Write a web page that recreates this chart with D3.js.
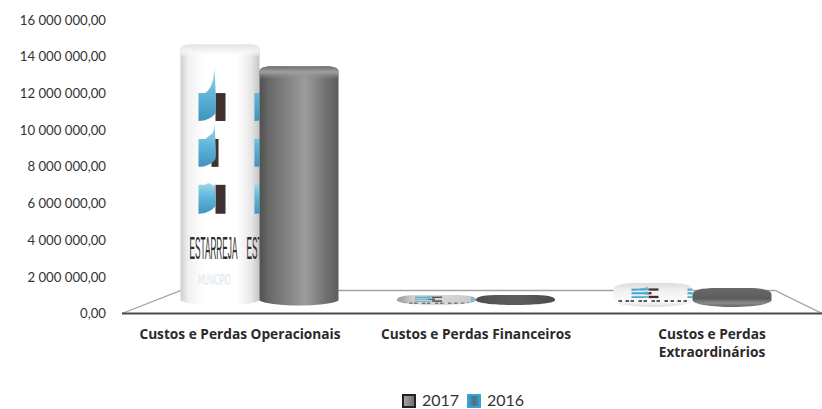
<!DOCTYPE html>
<html><head><meta charset="utf-8">
<script src="https://cdnjs.cloudflare.com/ajax/libs/d3/7.8.5/d3.min.js"></script>
<style>html,body{margin:0;background:#fff}svg{display:block}text{font-family:Lato,"Open Sans",sans-serif;fill:#333}</style>
</head><body><svg id="c" width="822" height="409"></svg>
<script>
const categories = ["Custos e Perdas Operacionais", "Custos e Perdas Financeiros", "Custos e Perdas Extraordinários"];
const categoryLines = [["Custos e Perdas Operacionais"], ["Custos e Perdas Financeiros"], ["Custos e Perdas", "Extraordinários"]];
const seriesNames = ["2017", "2016"];
const values2017 = [13700000, 50000, 600000];
const values2016 = [12500000, 50000, 330000];
const tickValues = [0, 2000000, 4000000, 6000000, 8000000, 10000000, 12000000, 14000000, 16000000];

const svg = d3.select("#c");
const defs = svg.append("defs");
const nf = d3.formatLocale({decimal: ",", thousands: " ", grouping: [3], currency: ["", ""]}).format(",.2f");

function grad(id, stops, vertical) {
  const g = defs.append("linearGradient").attr("id", id).attr("x1", 0).attr("y1", 0)
    .attr("x2", vertical ? 0 : 1).attr("y2", vertical ? 1 : 0);
  stops.forEach(s => g.append("stop").attr("offset", s[0]).attr("stop-color", s[1]).attr("stop-opacity", s[2] === undefined ? 1 : s[2]));
}
grad("gWhite", [[0, "#cfcfcf"], [.1, "#f1f1f1"], [.3, "#fff"], [.72, "#fff"], [.9, "#e6e6e6"], [1, "#c4c4c4"]]);
grad("gGrey", [[0, "#505050"], [.12, "#686868"], [.58, "#9c9c9c"], [.85, "#707070"], [1, "#5c5c5c"]]);
grad("gFlatW", [[0, "#9a9a9a"], [.2, "#cfcfcf"], [.5, "#d8d8d8"], [1, "#c8c8c8"]]);
grad("gFlatG", [[0, "#4e4e4e"], [.5, "#5e5e5e"], [1, "#4c4c4c"]]);
grad("gDiscW", [[0, "#dcdcdc"], [.3, "#f0f0f0"], [.75, "#fbfbfb"], [1, "#dedede"]], true);
grad("gDiscG", [[0, "#6a6a6a"], [.55, "#5c5c5c"], [.8, "#8a8a8a"], [1, "#666"]], true);
grad("gCapW", [[0, "#e2e2e2"], [.5, "#f4f4f4"], [1, "#fff", 0]], true);
grad("gCapG", [[0, "#6e6e6e"], [.45, "#a0a0a0"], [1, "#8a8a8a", 0]], true);
grad("gBlue", [[0, "#a9dcee"], [.5, "#5fb6da"], [1, "#3f94bd"]], true);
grad("gLeg1", [[0, "#a8a8a8"], [1, "#6c6c6c"]]);
grad("gLeg2", [[0, "#39a4d2"], [.5, "#4e6f85"], [1, "#2f9bc9"]]);

// Axis
const y = d3.scaleLinear().domain([0, 16000000]).range([313.5, 20]);
const axis = d3.axisLeft(y).tickValues(tickValues).tickSize(0).tickPadding(0).tickFormat(nf);
const ax = svg.append("g").attr("transform", "translate(106,0)").call(axis);
ax.select(".domain").remove();
ax.selectAll("text").style("font-size", "13.2px").style("fill", "#333").style("font-family", "Lato,sans-serif");

// Floor
const floorX = d3.scaleLinear().domain([0, 1]).range([122, 822]);
const floorBack = d3.scaleLinear().domain([0, 1]).range([181, 775]);
const floor = svg.append("g").attr("fill", "none");
floor.append("path").attr("stroke", "#a3a3a3").attr("stroke-width", 1.3)
  .attr("d", d3.line()([[floorX(0), y(0)], [floorBack(0), 290.5], [floorBack(1), 290.5], [floorX(1), y(0)]]));
floor.append("path").attr("stroke", "#4a4a4a").attr("stroke-width", 1.8)
  .attr("d", d3.line()([[floorX(0), y(0)], [floorX(1), y(0)]]));

// Bars (the 3D floor pulls the groups toward the centre)
const xBar = d3.scaleBand().domain(categories).range([151.25, 800.75]);
const xSeries = d3.scaleBand().domain(seriesNames).range([-79, 79]);
const yBar = d3.scaleLinear().domain([0, 16000000]).range([300.5, 7]);
const ryOf = [5, 4.5, 6.5];

function cyl(x0, x1, top, base, ry, flat) {
  const w = x1 - x0;
  const sx = flat ? w * .3 : 13, sy = ry;
  const p = d3.path();
  p.moveTo(x0, base);
  p.lineTo(x0, top - ry + sy);
  p.bezierCurveTo(x0, top - ry + sy * .3, x0 + sx * .4, top - ry, x0 + sx, top - ry);
  p.lineTo(x1 - sx, top - ry);
  p.bezierCurveTo(x1 - sx * .4, top - ry, x1, top - ry + sy * .3, x1, top - ry + sy);
  p.lineTo(x1, base);
  p.bezierCurveTo(x1 - (flat ? 4 : 12), base + ry * 1.33, x0 + (flat ? 4 : 12), base + ry * 1.33, x0, base);
  p.closePath();
  return p.toString();
}

// decorative wrapped picture on the 2017 bars
const tileY = [[66, 120, 92, 10], [122, 166, 138, 7], [180, 213, 184, 10]];
const speckX = [186, 193, 198, 206, 211, 219, 224, 232, 238, 245, 251];
function texture(g, x0, top, base, full) {
  const k = (base + 5 - (top - 5)) / 262;
  const t = g.append("g").attr("transform", `translate(${x0},${top - 5}) scale(1,${k}) translate(-181,-43)`);
  [0, 1].forEach(col => {
    const dx = col * 56;
    tileY.forEach(r => {
      t.append("path").attr("fill", "url(#gBlue)")
        .attr("d", `M${199 + dx} ${r[2]} L${206 + dx} ${r[2]} C${213 + dx} ${r[2] - 6} ${214 + dx} ${r[0] + 12} ${215 + dx} ${r[0]} C${216 + dx} ${r[0] + 18} ${217 + dx} ${r[1] - 12} ${216 + dx} ${r[1] - 8} C${213 + dx} ${r[1] - 3} ${206 + dx} ${r[1]} ${199 + dx} ${r[1]} Z`);
      const rx = r[3] === 7 ? 212 : 216;
      t.append("rect").attr("x", rx + dx).attr("y", r[2]).attr("width", r[3]).attr("height", r[1] - r[2]).attr("fill", "#40302f").lower();
    });
  });
  if (full) {
    [["A", 174, .3], ["ESTARREJA", 190, .275], ["ESTARREJA", 247, .275]].forEach(d => {
      t.append("text").text(d[0])
        .attr("transform", `translate(${d[1]},258) scale(${d[2]},1.07)`)
        .style("font-family", "'Liberation Sans',sans-serif").style("font-size", "30px").style("fill", "#2b2b2b");
    });
    t.append("text").text("MUNICIPIO").attr("transform", "translate(199,284) scale(.5,1.3)")
      .style("font-size", "12px").style("fill", "#d6e6ee");
  } else {
    speckX.forEach(o => t.append("rect").attr("x", o).attr("y", 238).attr("width", 3.5).attr("height", 22).attr("fill", "#444"));
  }
}

categories.forEach((c, i) => {
  const cx = xBar(c) + xBar.bandwidth() / 2;
  [[seriesNames[0], values2017[i]], [seriesNames[1], values2016[i]]].forEach(([s, v], si) => {
    const x0 = cx + xSeries(s), x1 = x0 + xSeries.bandwidth();
    const top = yBar(v), base = yBar(0), ry = ryOf[i];
    const d = cyl(x0, x1, top, base, ry, i > 0);
    const id = `clip${i}${si}`;
    const fill = si
      ? (i === 0 ? "url(#gGrey)" : (i === 1 ? "url(#gFlatG)" : "url(#gDiscG)"))
      : (i === 0 ? "url(#gWhite)" : (i === 1 ? "url(#gFlatW)" : "url(#gDiscW)"));
    defs.append("clipPath").attr("id", id).append("path").attr("d", d);
    const g = svg.append("g");
    g.append("path").attr("d", d).attr("fill", fill);
    const inner = g.append("g").attr("clip-path", `url(#${id})`);
    if (!si) texture(inner, x0, top, base, i === 0);
    if (i === 0) inner.append("rect").attr("x", x0).attr("y", top - ry).attr("width", x1 - x0).attr("height", 13)
      .attr("fill", si ? "url(#gCapG)" : "url(#gCapW)");
  });
});

// Category labels
const xLabel = d3.scaleBand().domain(categories).range([122, 830]);
categories.forEach((c, i) => {
  const t = svg.append("text").attr("text-anchor", "middle").style("font-size", "13.7px").style("font-weight", 700)
    .style("font-family", "'Open Sans',sans-serif").style("fill", "#2a2a2a");
  categoryLines[i].forEach((line, li) => t.append("tspan")
    .attr("x", xLabel(c) + xLabel.bandwidth() / 2).attr("y", 339 + li * 18).text(line));
});

// Legend
const legX = d3.scaleOrdinal().domain(seriesNames).range([402, 467]);
seriesNames.forEach((s, i) => {
  const lg = svg.append("g").attr("transform", `translate(${legX(s)},394)`);
  lg.append("rect").attr("x", 1).attr("y", 1).attr("width", 12).attr("height", 12)
    .attr("fill", i ? "url(#gLeg2)" : "url(#gLeg1)")
    .attr("stroke", i ? "#3aa2cf" : "#222").attr("stroke-width", 2);
  lg.append("text").attr("x", 20).attr("y", 11.5).text(s).style("font-size", "16px").style("fill", "#333");
});
</script></body></html>
